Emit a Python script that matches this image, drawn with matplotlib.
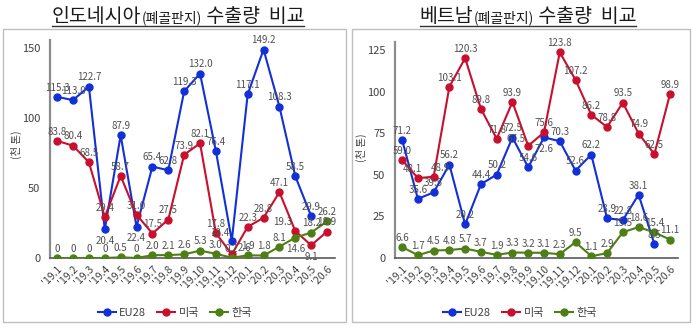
import matplotlib
matplotlib.use('Agg')
import matplotlib.pyplot as plt
import numpy as np
from matplotlib.patches import Rectangle
from matplotlib.lines import Line2D

plt.rcParams['font.family'] = ['Noto Sans CJK KR', 'DejaVu Sans']

months = ["'19.1", "'19.2", "'19.3", "'19.4", "'19.5", "'19.6", "'19.7", "'19.8", "'19.9",
          "'19.10", "'19.11", "'19.12", "'20.1", "'20.2", "'20.3", "'20.4", "'20.5", "'20.6"]

# Indonesia (thousand tons)
idn_eu = [115.3, 113.0, 122.7, 20.4, 87.9, 22.4, 65.4, 62.8, 119.3, 132.0, 76.4, 12.4,
          117.1, 149.2, 108.3, 58.5, 29.9, np.nan]
idn_us = [83.8, 80.4, 68.5, 29.4, 58.7, 31.0, 17.5, 27.5, 73.9, 82.1, 17.8, 2.6,
          22.3, 28.8, 47.1, 19.3, 9.1, 18.9]
idn_kr = [0, 0, 0, 0, 0.5, 0, 2.0, 2.1, 2.6, 5.3, 3.0, 0.2,
          1.9, 1.8, 8.1, 14.6, 18.2, 26.2]

# Vietnam (thousand tons)
vnm_eu = [71.2, 35.6, 39.5, 56.2, 20.2, 44.4, 50.2, 72.5, 54.6, 72.6, 70.3, 52.6,
          62.2, 23.9, 22.8, 38.1, 8.5, np.nan]
vnm_us = [59.0, 48.1, 48.9, 103.1, 120.3, 89.8, 71.8, 93.9, 67.5, 75.6, 123.8, 107.2,
          86.2, 78.8, 93.5, 74.9, 62.5, 98.9]
vnm_kr = [6.6, 1.7, 4.5, 4.8, 5.7, 3.7, 1.9, 3.3, 3.2, 3.1, 2.3, 9.5,
          1.1, 2.9, 15.5, 18.6, 15.4, 11.1]

series_names = ['EU28', '미국', '한국']
colors = ['#1230D8', '#C8102E', '#4E7F16']

# label offset overrides (points): (chart, series, index) -> (dx, dy)
label_offsets = {
    ('idn', 0, 3): (0, -12), ('idn', 0, 5): (0, -12),
    ('idn', 0, 11): (-9, 2), ('idn', 1, 11): (9, 1),
    ('idn', 1, 15): (-9, 3), ('idn', 2, 15): (0, -12),
    ('idn', 1, 16): (0, -12),
    ('vnm', 0, 9): (0, -12), ('vnm', 1, 8): (-9, 1),
    ('vnm', 1, 1): (-4, 3), ('vnm', 1, 2): (5, 3),
}

W, H = 698, 331
fig = plt.figure(figsize=(W / 100, H / 100), dpi=100)
fig.patch.set_facecolor('white')


def fx(px):
    return px / W


def fy(py):
    return 1 - py / H


def make_axes(key, left, right, top, bottom, ymax, yticks, data):
    ax = fig.add_axes([fx(left), fy(bottom), fx(right) - fx(left), fy(top) - fy(bottom)])
    x = np.arange(len(months))
    for si, (vals, c) in enumerate(zip(data, colors)):
        v = np.array(vals, dtype=float)
        ax.plot(x, v, color=c, lw=1.5, marker='o', ms=5, zorder=3)
        for xi, yi in zip(x, v):
            if np.isnan(yi):
                continue
            dx, dy = label_offsets.get((key, si, int(xi)), (0, 3))
            ax.annotate(f'{yi:.1f}' if yi != 0 else '0', (xi, yi), xytext=(dx, dy),
                        textcoords='offset points', ha='center', va='bottom',
                        fontsize=7, color='#505050', zorder=4)
    ax.set_xlim(-0.45, len(months) - 0.5)
    ax.set_ylim(0, ymax)
    ax.set_yticks(yticks)
    ax.set_xticks(x)
    ax.set_xticklabels(months, rotation=45, ha='right', va='top', rotation_mode='anchor',
                       fontsize=7.5, color='#404040')
    ax.tick_params(axis='both', length=0)
    ax.tick_params(axis='y', labelsize=8, labelcolor='#404040', pad=7)
    ax.tick_params(axis='x', pad=4)
    for s in ['top', 'right']:
        ax.spines[s].set_visible(False)
    ax.spines['left'].set_color('#8C8C8C')
    ax.spines['left'].set_linewidth(1.6)
    ax.spines['bottom'].set_color('#595959')
    ax.spines['bottom'].set_linewidth(1.2)
    ax.set_facecolor('none')
    return ax


ax1 = make_axes('idn', 50, 335, 40, 258, 156, [0, 50, 100, 150], [idn_eu, idn_us, idn_kr])
ax2 = make_axes('vnm', 395, 678, 42, 258, 130, [0, 25, 50, 75, 100, 125], [vnm_eu, vnm_us, vnm_kr])

# panel frames
for (l, r) in [(3, 346), (352, 690)]:
    fig.patches.append(Rectangle((fx(l), fy(322)), fx(r) - fx(l), fy(29) - fy(322),
                                 transform=fig.transFigure, fill=False,
                                 edgecolor='#BFBFBF', lw=1.0, zorder=0))

# y labels
fig.text(fx(16), fy(145), '(천 톤)', rotation=90, ha='center', va='center',
         fontsize=7.5, color='#404040')
fig.text(fx(361), fy(148), '(천 톤)', rotation=90, ha='center', va='center',
         fontsize=7.5, color='#404040')

# legends
handles = [Line2D([0], [0], color=c, lw=1.5, marker='o', ms=5) for c in colors]
for cx in [175, 520]:
    fig.legend(handles, series_names, loc='center', bbox_to_anchor=(fx(cx), fy(313)),
               ncol=3, frameon=False, fontsize=8, handlelength=1.6, handletextpad=0.3,
               columnspacing=1.0, labelcolor='#404040')

# titles with mixed sizes + underline
fig.canvas.draw()
renderer = fig.canvas.get_renderer()


def title(parts, center_px, baseline_px, underline_px):
    texts = []
    for s, size in parts:
        t = fig.text(0, fy(baseline_px), s, fontsize=size, ha='left', va='baseline',
                     color='#1a1a1a', fontweight='medium')
        texts.append(t)
    widths = [t.get_window_extent(renderer).width for t in texts]
    total = sum(widths)
    start = center_px - total / 2
    cur = start
    for t, w in zip(texts, widths):
        t.set_x(fx(cur))
        cur += w
    fig.add_artist(Line2D([fx(start), fx(start + total)], [fy(underline_px)] * 2,
                          transform=fig.transFigure, color='#333333', lw=1.0))


title([('인도네시아', 14), ('(폐골판지)', 10), (' 수출량  비교', 14)], 178, 22, 26)
title([('베트남', 14), ('(폐골판지)', 10), (' 수출량  비교', 14)], 528, 22, 26)

fig.savefig('out.png', dpi=100, facecolor='white')
